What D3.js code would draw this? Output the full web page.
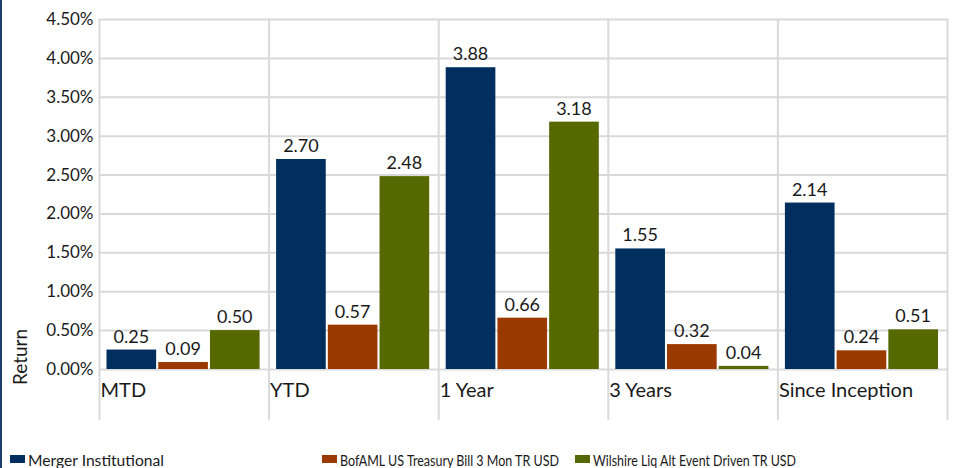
<!DOCTYPE html>
<html>
<head>
<meta charset="utf-8">
<script src="https://cdn.jsdelivr.net/npm/d3@7/dist/d3.min.js"></script>
<style>
  body { margin: 0; background: #fff; }
  text { font-family: Lato, "Open Sans", sans-serif; fill: #1a1a1a; }
</style>
</head>
<body>
<svg id="chart"></svg>
<script>
// data
const categories = ["MTD", "YTD", "1 Year", "3 Years", "Since Inception"];
const seriesNames = ["Merger Institutional", "BofAML US Treasury Bill 3 Mon TR USD", "Wilshire Liq Alt Event Driven TR USD"];
const merger = [0.25, 2.70, 3.88, 1.55, 2.14];
const bofaml = [0.09, 0.57, 0.66, 0.32, 0.24];
const wilshire = [0.50, 2.48, 3.18, 0.04, 0.51];
const yTicks = [0, 0.5, 1, 1.5, 2, 2.5, 3, 3.5, 4, 4.5];

const colors = ["#002f5f", "#9b3a00", "#566800"];

const width = 958;
const height = 468;
const margin = { left: 99.5, right: 10.5, top: 19, bottom: 99 };

const svg = d3.select("#chart")
    .attr("width", width)
    .attr("height", height);

const allSeries = [merger, bofaml, wilshire];
const rows = categories.map((c, i) => ({
    cat: c,
    vals: allSeries.map((s, j) => ({ key: j, value: s[i] }))
}));

// Scales
const x0 = d3.scaleBand()
    .domain(categories)
    .range([margin.left, width - margin.right])
    .padding(0);

const x1 = d3.scaleBand()
    .domain([0, 1, 2])
    .range([7, x0.bandwidth() - 9.5])
    .paddingInner(0.04);

const y = d3.scaleLinear()
    .domain([0, 4.5])
    .range([height - margin.bottom, margin.top]);

// left frame line
svg.append("rect")
    .attr("x", 0).attr("y", 0)
    .attr("width", 2).attr("height", height)
    .attr("fill", "#1f3d6b");

// horizontal grid + y axis labels
const yAxis = d3.axisLeft(y)
    .tickValues(yTicks)
    .tickSize(-(width - margin.left - margin.right))
    .tickPadding(6)
    .tickFormat(d => d.toFixed(2) + "%");

svg.append("g")
    .attr("transform", `translate(${margin.left},0)`)
    .call(yAxis)
    .call(g => g.select(".domain").remove())
    .call(g => g.selectAll("line").attr("stroke", "#d9d9d9").attr("stroke-width", 2))
    .call(g => g.selectAll("text").style("font-size", "17px").attr("fill", "#1a1a1a"));

// vertical grid lines at band edges
const edges = categories.map(c => x0(c)).concat([width - margin.right]);
svg.append("g")
    .selectAll("line")
    .data(edges)
    .enter()
    .append("line")
    .attr("x1", d => d).attr("x2", d => d)
    .attr("y1", margin.top)
    .attr("y2", 420)
    .attr("stroke", "#d9d9d9")
    .attr("stroke-width", 2);

// category labels
svg.append("g")
    .selectAll("text")
    .data(categories)
    .enter()
    .append("text")
    .attr("x", d => x0(d) + 1)
    .attr("y", 397)
    .style("font-size", "20px")
    .text(d => d);

// bars
const groups = svg.append("g")
    .selectAll("g")
    .data(rows)
    .enter()
    .append("g")
    .attr("transform", d => `translate(${x0(d.cat)},0)`);

groups.selectAll("rect")
    .data(d => d.vals)
    .enter()
    .append("rect")
    .attr("x", d => x1(d.key))
    .attr("width", x1.bandwidth())
    .attr("y", d => y(d.value))
    .attr("height", d => y(0) - y(d.value))
    .attr("fill", d => colors[d.key]);

groups.selectAll("text")
    .data(d => d.vals)
    .enter()
    .append("text")
    .attr("x", d => x1(d.key) + x1.bandwidth() / 2)
    .attr("y", d => y(d.value) - 7)
    .attr("text-anchor", "middle")
    .style("font-size", "18px")
    .text(d => d.value.toFixed(2));

// y title
svg.append("text")
    .attr("transform", "translate(27,357) rotate(-90)")
    .attr("text-anchor", "middle")
    .style("font-size", "19px")
    .text("Return");

// legend
const legendX = [10, 322, 575];
const legendW = [136, 219, 203];
const legend = svg.append("g")
    .selectAll("g")
    .data(seriesNames)
    .enter()
    .append("g")
    .attr("transform", (d, i) => `translate(${legendX[i]},455)`);

legend.append("rect")
    .attr("width", 15)
    .attr("height", 8)
    .attr("fill", (d, i) => colors[i]);

legend.append("text")
    .attr("x", 18)
    .attr("y", 11)
    .style("font-size", "14.5px")
    .attr("textLength", (d, i) => legendW[i])
    .attr("lengthAdjust", "spacingAndGlyphs")
    .text(d => d);
</script>
</body>
</html>
